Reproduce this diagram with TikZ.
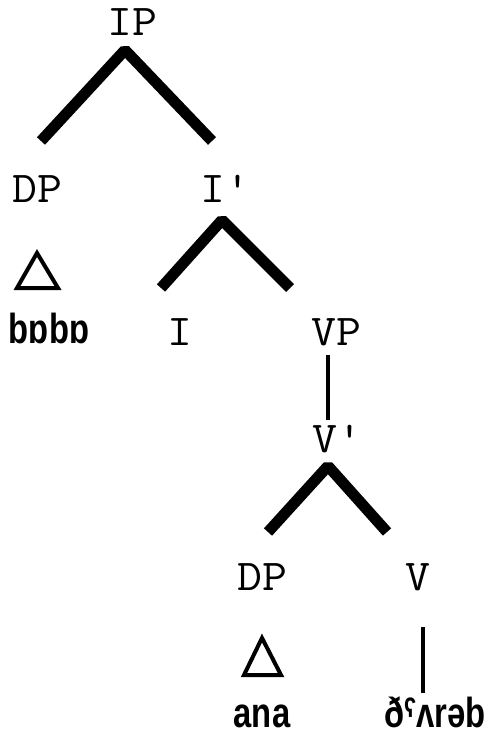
\documentclass[tikz,border=0pt]{standalone}
\usepackage{fontspec}
\newfontfamily\wordfont{Liberation Sans}
\begin{document}
\begin{tikzpicture}[x=1pt,y=-1pt,
        cat/.style={font=\ttfamily\fontsize{44}{44}\selectfont,inner sep=0pt,anchor=base,
                xscale=1.1},
        word/.style={font=\wordfont\bfseries\fontsize{42}{42}\selectfont,inner sep=0pt,
                anchor=base,xscale=0.78},
        branch/.style={line width=11pt,line join=bevel},
        stem/.style={line width=4pt},
        roof/.style={line width=4pt,line join=miter}]
        \useasboundingbox (0,0) rectangle (490,736);
        \begin{scope}[every node/.style={cat}]
        \node (ip) at (132,35) {IP};
        \node (dpa) at (37,202) {DP};
        \node (ibar) at (225,202) {I'};
        \node (infl) at (180,345) {I};
        \node (vp) at (336,345) {VP};
        \node (vbar) at (337,452) {V'};
        \node (dpb) at (262,590) {DP};
        \node (verb) at (418,590) {V};
        \end{scope}
        \begin{scope}[every node/.style={word}]
        \node (bobo) at (49,343) {bɒbɒ};
        \node (ana) at (262,727) {ana};
        \node (dharab) at (435,727) {ðˤʌrəb};
        \end{scope}
        \draw[branch] ([shift={(4,-61)}]dpa.base) -- ([shift={(-7,15)}]ip.base)
                -- ([shift={(-13,-61)}]ibar.base);
        \draw[branch] ([shift={(-19,-57)}]infl.base) -- ([shift={(-3,18)}]ibar.base)
                -- ([shift={(-46,-57)}]vp.base);
        \draw[branch] ([shift={(6,-58)}]dpb.base) -- ([shift={(-9,14)}]vbar.base)
                -- ([shift={(-31,-58)}]verb.base);
        \draw[stem] ([shift={(-8,10)}]vp.base) -- ([shift={(-9,-32)}]vbar.base);
        \draw[stem] ([shift={(5,37)}]verb.base) -- ([shift={(-12,-34)}]dharab.base);
        \draw[roof] ([shift={(0,51)}]dpa.base) -- ([shift={(-20,86)}]dpa.base)
                -- ([shift={(21,86)}]dpa.base) -- cycle;
        \draw[roof] ([shift={(0,48)}]dpb.base) -- ([shift={(-18,85)}]dpb.base)
                -- ([shift={(19,85)}]dpb.base) -- cycle;
\end{tikzpicture}
\end{document}
